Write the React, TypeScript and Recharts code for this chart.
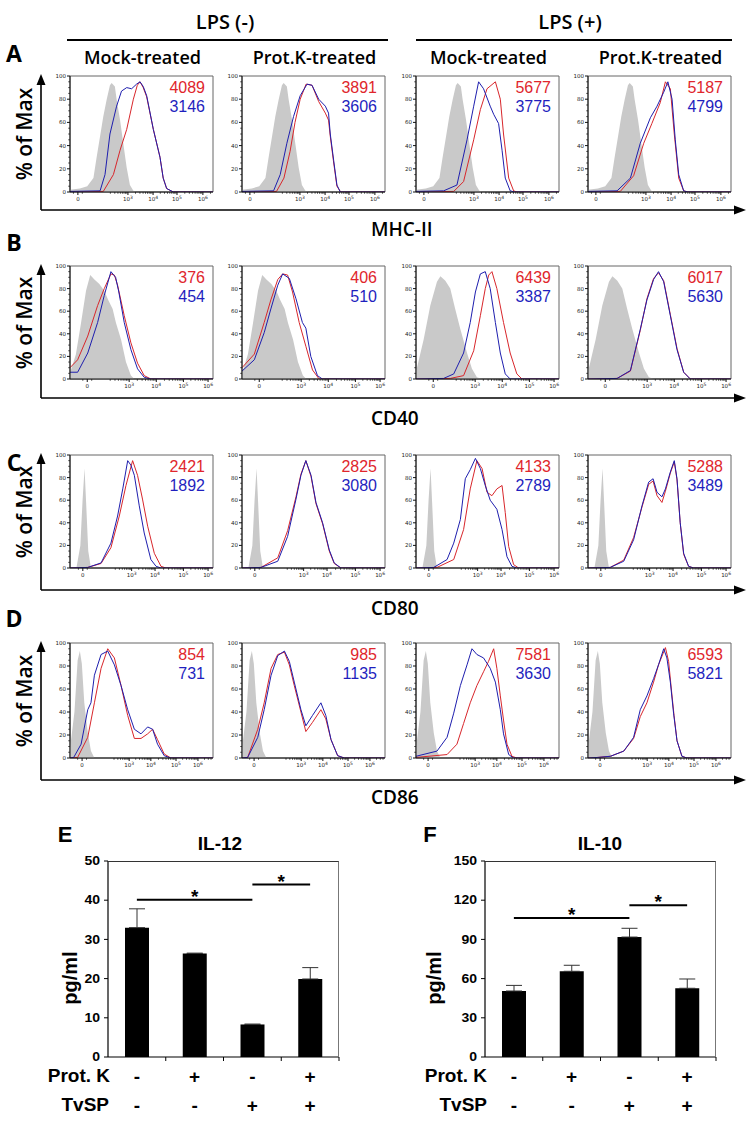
import React from 'react'
import {
  ComposedChart,
  Area,
  Line,
  XAxis,
  YAxis,
  ReferenceArea,
  ReferenceLine,
  BarChart,
  Bar,
  ErrorBar,
} from 'recharts'

const SANS = '"Open Sans", "Noto Sans", sans-serif'
const ARIAL = '"Liberation Sans", Arial, sans-serif'
const RED = '#d8262b'
const BLUE = '#1e1eae'
const GRAY = '#c9c9c9'
const NUM_RED = '#e0262c'
const NUM_BLUE = '#1f1fbe'

// ---- flow panels: header / labels ----
const lpsGroups = ['LPS (-)', 'LPS (+)']
const treatments = ['Mock-treated', 'Prot.K-treated', 'Mock-treated', 'Prot.K-treated']
const markers = ['MHC-II', 'CD40', 'CD80', 'CD86']
const rowLetters = ['A', 'B', 'C', 'D']

const mfiRed = [
  [4089, 3891, 5677, 5187],
  [376, 406, 6439, 6017],
  [2421, 2825, 4133, 5288],
  [854, 985, 7581, 6593],
]
const mfiBlue = [
  [3146, 3606, 3775, 4799],
  [454, 510, 3387, 5630],
  [1892, 3080, 2789, 3489],
  [731, 1135, 3630, 5821],
]

// x axis in display units (biexponential look); major tick positions per row
const xTickExp = ['', '3', '4', '5', '6']
const xTickPos = [
  [0.92, 2.95, 3.97, 4.94, 5.99],
  [1.3, 3.0, 4.1, 5.2, 6.2],
  [1.12, 3.1, 4.05, 5.2, 6.2],
  [1.09, 3.0, 3.88, 4.9, 5.79],
]
const yTickLabels = [0, 20, 40, 60, 80, 100]

// ---- histogram curves [u, % of max] ----
const grayA = [[0.6, 2], [1.0, 3], [1.3, 5], [1.55, 12], [1.68, 30], [1.82, 48], [1.95, 65], [2.09, 80], [2.22, 92], [2.29, 94], [2.42, 91], [2.49, 80], [2.63, 62], [2.76, 42], [2.9, 21], [3.03, 6], [3.17, 1], [3.3, 0]]
const redA1 = [[0.6, 0], [1.95, 0.5], [2.36, 15], [2.63, 36], [2.9, 54], [3.17, 80], [3.33, 92], [3.44, 95], [3.57, 90], [3.71, 82], [3.98, 54], [4.25, 30], [4.38, 12], [4.52, 3], [4.79, 0], [6.4, 0]]
const blueA1 = [[0.6, 0.5], [1.82, 1], [2.02, 15], [2.22, 50], [2.49, 74], [2.69, 87], [2.9, 90], [3.1, 89], [3.3, 93], [3.44, 95], [3.57, 91], [3.71, 83], [3.98, 54], [4.25, 30], [4.38, 12], [4.52, 3], [4.79, 0], [6.4, 0]]
const redA2 = [[0.6, 0], [2.0, 0.5], [2.3, 12], [2.55, 35], [2.75, 60], [2.96, 80], [3.2, 93], [3.44, 92], [3.71, 78], [3.98, 68], [4.11, 62], [4.18, 48], [4.32, 25], [4.45, 5], [4.6, 0], [6.4, 0]]
const blueA2 = [[0.6, 0.5], [1.88, 1], [2.15, 15], [2.42, 42], [2.69, 65], [2.96, 83], [3.24, 93], [3.44, 92], [3.71, 80], [3.98, 74], [4.11, 68], [4.18, 50], [4.32, 27], [4.45, 6], [4.59, 0], [6.4, 0]]
const redA3 = [[0.6, 0], [2.13, 0.5], [2.53, 9], [2.94, 45], [3.21, 71], [3.48, 89], [3.82, 95], [4.02, 80], [4.15, 50], [4.36, 12], [4.56, 1], [4.7, 0], [6.4, 0]]
const blueA3 = [[0.6, 0.5], [1.72, 1], [2.26, 6], [2.67, 45], [2.94, 74], [3.14, 95], [3.34, 89], [3.61, 74], [3.75, 67], [3.95, 59], [4.09, 36], [4.22, 12], [4.42, 1], [4.6, 0], [6.4, 0]]
const redA4 = [[0.6, 0], [1.91, 0.5], [2.45, 14], [2.86, 42], [3.19, 59], [3.53, 77], [3.74, 95], [3.94, 89], [4.1, 50], [4.28, 12], [4.48, 1], [4.65, 0], [6.4, 0]]
const blueA4 = [[0.6, 0.5], [1.78, 1], [2.32, 12], [2.72, 42], [3.13, 64], [3.4, 74], [3.67, 86], [3.84, 95], [4.01, 80], [4.14, 45], [4.28, 15], [4.48, 1], [4.65, 0], [6.4, 0]]

const grayBneg = [[0.6, 6], [0.64, 8], [0.84, 22], [1.05, 50], [1.25, 78], [1.42, 92], [1.59, 88], [1.79, 84], [1.99, 78], [2.15, 70], [2.33, 62], [2.46, 50], [2.67, 35], [2.87, 15], [3.07, 3], [3.21, 0]]
const grayBpos = [[0.6, 8], [0.64, 10], [0.91, 35], [1.18, 65], [1.45, 86], [1.59, 91], [1.79, 87], [1.99, 80], [2.19, 62], [2.4, 44], [2.67, 23], [2.87, 9], [3.07, 1.5], [3.28, 0]]
const redB1 = [[0.6, 10], [0.91, 17], [1.32, 38], [1.72, 65], [1.99, 80], [2.26, 93], [2.4, 92], [2.53, 83], [2.8, 56], [3.07, 32], [3.34, 14], [3.61, 3], [3.88, 0], [6.4, 0]]
const blueB1 = [[0.6, 6], [0.91, 6], [1.32, 23], [1.72, 50], [1.99, 74], [2.26, 95], [2.45, 90], [2.58, 77], [2.8, 50], [3.07, 26], [3.34, 9], [3.61, 1.5], [3.88, 0], [6.4, 0]]
const redB2 = [[0.6, 10], [1.1, 22], [1.5, 50], [1.77, 70], [2.05, 88], [2.25, 93], [2.45, 92], [2.65, 77], [2.92, 50], [3.19, 29], [3.46, 8], [3.73, 0], [6.4, 0]]
const blueB2 = [[0.6, 7], [1.1, 17], [1.5, 41], [1.77, 62], [2.05, 83], [2.25, 93], [2.52, 89], [2.79, 71], [3.05, 50], [3.19, 45], [3.39, 20], [3.66, 3], [3.86, 0], [6.4, 0]]
const redB3 = [[0.6, 0], [1.99, 0.5], [2.53, 3], [2.94, 25], [3.21, 56], [3.41, 80], [3.55, 92], [3.68, 95], [3.88, 80], [4.15, 50], [4.42, 23], [4.69, 4.5], [4.9, 0], [6.4, 0]]
const blueB3 = [[0.6, 0], [1.72, 0.5], [2.13, 4.5], [2.53, 23], [2.8, 50], [3.01, 77], [3.21, 93], [3.41, 95], [3.61, 80], [3.82, 50], [4.02, 23], [4.22, 4.5], [4.42, 0], [6.4, 0]]
const redB4 = [[0.6, 0], [1.78, 0.5], [2.32, 7], [2.72, 43], [2.99, 71], [3.26, 89], [3.46, 94], [3.67, 87], [3.94, 57], [4.21, 27], [4.48, 6], [4.75, 0], [6.4, 0]]
const blueB4 = [[0.6, 0], [1.78, 0.5], [2.32, 7.5], [2.72, 44], [2.99, 70], [3.26, 88], [3.46, 95], [3.67, 86], [3.94, 56], [4.21, 26], [4.48, 6], [4.75, 0], [6.4, 0]]

const grayC = [[0.6, 0], [0.86, 0], [1.02, 20], [1.11, 60], [1.19, 88], [1.26, 55], [1.34, 15], [1.45, 0], [6.4, 0]]
const redC1 = [[0.6, 0], [1.32, 0.5], [1.86, 4], [2.26, 18], [2.6, 46], [2.87, 73], [3.14, 95], [3.34, 82], [3.54, 61], [3.75, 37], [4.02, 13], [4.29, 1.5], [4.49, 0], [6.4, 0]]
const blueC1 = [[0.6, 0], [1.32, 0.5], [1.86, 4.5], [2.26, 22], [2.53, 46], [2.74, 70], [2.94, 95], [3.07, 91], [3.21, 82], [3.41, 55], [3.61, 31], [3.88, 7.5], [4.09, 1.5], [4.29, 0], [6.4, 0]]
const redC2 = [[0.6, 0], [1.37, 0.5], [2.05, 9], [2.45, 33], [2.79, 63], [2.99, 83], [3.19, 95], [3.4, 81], [3.6, 57], [3.87, 39], [4.14, 15], [4.34, 4], [4.61, 0], [6.4, 0]]
const blueC2 = [[0.6, 0], [1.37, 0.5], [2.05, 6], [2.45, 28], [2.79, 61], [2.99, 82], [3.19, 95], [3.4, 82], [3.6, 58], [3.87, 40], [4.14, 16], [4.34, 4.5], [4.61, 0], [6.4, 0]]
const redC3 = [[0.6, 0], [1.45, 0.5], [2.13, 7.5], [2.53, 34], [2.8, 70], [3.07, 95], [3.28, 88], [3.48, 67], [3.68, 64], [3.88, 70], [4.09, 73], [4.22, 49], [4.36, 19], [4.56, 3], [4.76, 0], [6.4, 0]]
const blueC3 = [[0.6, 0], [1.32, 0.5], [1.86, 7.5], [2.13, 22], [2.4, 43], [2.6, 79], [2.8, 87], [3.01, 97], [3.21, 88], [3.41, 73], [3.61, 60], [3.88, 52], [4.09, 34], [4.29, 10], [4.49, 1.5], [4.69, 0], [6.4, 0]]
const redC4 = [[0.6, 0], [1.5, 0.5], [2.05, 7], [2.45, 27], [2.79, 54], [3.06, 74], [3.24, 77], [3.4, 64], [3.6, 58], [3.74, 68], [3.94, 84], [4.1, 94], [4.21, 78], [4.34, 40], [4.48, 12], [4.68, 1.5], [4.88, 0], [6.4, 0]]
const blueC4 = [[0.6, 0], [1.5, 0.5], [2.05, 6], [2.45, 25], [2.79, 55], [3.06, 76], [3.24, 79], [3.4, 67], [3.6, 63], [3.74, 70], [3.94, 85], [4.1, 95], [4.21, 79], [4.34, 40], [4.48, 13], [4.68, 1.5], [4.88, 0], [6.4, 0]]

const grayD = [[0.6, 8], [0.78, 40], [0.91, 85], [1.0, 93], [1.08, 82], [1.18, 48], [1.32, 22], [1.45, 6], [1.59, 0], [6.4, 0]]
const redD1 = [[0.6, 0], [0.91, 0.5], [1.32, 18], [1.59, 48], [1.86, 78], [2.13, 95], [2.4, 87], [2.67, 63], [2.94, 37], [3.21, 17], [3.48, 17], [3.75, 21], [3.95, 25], [4.15, 16], [4.42, 3.5], [4.69, 0], [6.4, 0]]
const blueD1 = [[0.6, 0], [0.75, 0.5], [1.05, 12], [1.32, 42], [1.45, 48], [1.59, 72], [1.86, 90], [2.13, 93], [2.4, 81], [2.67, 63], [2.94, 42], [3.21, 25], [3.48, 21], [3.75, 27], [3.95, 25], [4.15, 12], [4.42, 2], [4.69, 0], [6.4, 0]]
const redD2 = [[0.6, 0], [0.83, 0.5], [1.24, 25], [1.5, 48], [1.78, 78], [2.05, 90], [2.32, 92], [2.52, 81], [2.72, 63], [2.99, 40], [3.19, 23], [3.46, 31], [3.8, 42], [4.0, 34], [4.21, 16], [4.48, 2], [4.75, 0], [6.4, 0]]
const blueD2 = [[0.6, 0], [0.83, 0.5], [1.24, 18], [1.5, 42], [1.78, 72], [2.05, 89], [2.32, 93], [2.52, 84], [2.72, 66], [2.99, 42], [3.19, 28], [3.46, 37], [3.8, 48], [4.0, 37], [4.21, 16], [4.48, 2], [4.75, 0], [6.4, 0]]
const redD3 = [[0.6, 0.5], [1.86, 3], [2.26, 12], [2.53, 30], [2.8, 48], [3.07, 63], [3.34, 75], [3.54, 84], [3.75, 95], [3.88, 78], [4.02, 54], [4.15, 33], [4.29, 12], [4.49, 1.5], [4.69, 0], [6.4, 0]]
const blueD3 = [[0.6, 1.5], [1.45, 6], [1.86, 18], [2.13, 39], [2.4, 63], [2.67, 81], [2.87, 95], [3.07, 90], [3.34, 87], [3.61, 78], [3.82, 66], [4.02, 42], [4.15, 21], [4.36, 3], [4.56, 0], [6.4, 0]]
const redD4 = [[0.6, 0], [1.0, 0.5], [1.51, 1.5], [2.05, 6], [2.45, 17], [2.72, 36], [2.99, 48], [3.26, 66], [3.46, 81], [3.74, 96], [3.87, 84], [3.98, 60], [4.09, 37], [4.21, 15], [4.41, 1.5], [4.61, 0], [6.4, 0]]
const blueD4 = [[0.6, 0], [1.0, 0.5], [1.51, 1.5], [2.05, 6], [2.45, 18], [2.72, 42], [2.99, 54], [3.26, 69], [3.46, 81], [3.67, 95], [3.8, 87], [3.94, 66], [4.07, 39], [4.21, 15], [4.41, 1.5], [4.61, 0], [6.4, 0]]

const grays = [
  [grayA, grayA, grayA, grayA],
  [grayBneg, grayBneg, grayBpos, grayBpos],
  [grayC, grayC, grayC, grayC],
  [grayD, grayD, grayD, grayD],
]
const reds = [
  [redA1, redA2, redA3, redA4],
  [redB1, redB2, redB3, redB4],
  [redC1, redC2, redC3, redC4],
  [redD1, redD2, redD3, redD4],
]
const blues = [
  [blueA1, blueA2, blueA3, blueA4],
  [blueB1, blueB2, blueB3, blueB4],
  [blueC1, blueC2, blueC3, blueC4],
  [blueD1, blueD2, blueD3, blueD4],
]

// ---- cytokine bars ----
const cytoGroups = ['g1', 'g2', 'g3', 'g4']
const protK = ['-', '+', '-', '+']
const tvsp = ['-', '-', '+', '+']
const il12 = [33.0, 26.4, 8.3, 19.9]
const il12Err = [4.8, 0.1, 0.1, 2.9]
const il12Ticks = [0, 10, 20, 30, 40, 50]
const il12Sig = [[0, 2, 40.1], [2, 3, 44.0]]
const il10 = [50.5, 65.6, 91.8, 52.6]
const il10Err = [4.3, 4.6, 6.7, 7.1]
const il10Ticks = [0, 30, 60, 90, 120, 150]
const il10Sig = [[0, 2, 106.4], [2, 3, 116.1]]

// ---- layout ----
const rowTop = [76, 266, 455, 643]
const rowBottom = [192, 379, 568, 758]
const rowAxis = [210, 398, 590, 780]
const rowLetterY = [53, 242, 462, 618]
const rowMarkerY = [229, 418, 608, 797]
const panelLeft = [70, 242, 416, 588]
const PANEL_W = 143
const YW = 18
const XH = 14
const U_MIN = 0.6
const U_MAX = 6.4

const toPts = (a: number[][]) => a.map(([x, y]) => ({ x, y }))

function minorTicks(major: number[]) {
  const out: number[] = []
  const d = major[2] - major[1]
  for (let k = 2; k < 10; k++) {
    const p = major[1] - (1 - Math.log10(k)) * d
    if (p > major[0] + 0.25) out.push(p)
  }
  for (let i = 1; i < major.length - 1; i++) {
    for (let k = 2; k < 10; k++) out.push(major[i] + Math.log10(k) * (major[i + 1] - major[i]))
  }
  for (let k = 2; k < 10; k++) {
    const p = major[4] + Math.log10(k) * d
    if (p < U_MAX - 0.02) out.push(p)
  }
  out.push(major[0] - 0.18, major[0] + 0.18)
  return out
}

const yTicksAll: number[] = []
for (let v = 0; v <= 100; v += 5) yTicksAll.push(v)

function T({ x, y, children, size, anchor = 'middle', weight = 400, color = '#000', font = SANS, rotate = false }: any) {
  const tx = anchor === 'start' ? '0%' : anchor === 'end' ? '-100%' : '-50%'
  return (
    <div
      style={{
        position: 'absolute',
        left: x,
        top: y,
        transform: `translate(${tx},-50%)${rotate ? ' rotate(-90deg)' : ''}`,
        transformOrigin: 'center center',
        fontSize: size,
        fontWeight: weight,
        color,
        fontFamily: font,
        whiteSpace: 'nowrap',
        lineHeight: 1,
      }}
    >
      {children}
    </div>
  )
}

function XTick({ x, y, payload, majors }: any) {
  const i = majors.indexOf(payload.value)
  const major = i >= 0
  return (
    <g>
      <line x1={x} y1={y} x2={x} y2={y + (major ? 3 : 1.8)} stroke="#111" strokeWidth={major ? 1 : 0.7} />
      {major &&
        (xTickExp[i] === '' ? (
          <text x={x} y={y + 9} textAnchor="middle" fontSize={5.5} fontFamily="DejaVu Sans" fill="#222">0</text>
        ) : (
          <text x={x} y={y + 9} textAnchor="middle" fontSize={5.5} fontFamily="DejaVu Sans" fill="#222">
            10<tspan dy={-2.5} fontSize={4.5}>{xTickExp[i]}</tspan>
          </text>
        ))}
    </g>
  )
}

function YTick({ x, y, payload }: any) {
  const major = yTickLabels.includes(payload.value)
  return (
    <g>
      <line x1={x} y1={y} x2={x - (major ? 3 : 1.8)} y2={y} stroke="#111" strokeWidth={major ? 1 : 0.7} />
      {major && (
        <text x={x - 4} y={y + 2} textAnchor="end" fontSize={5.5} fontFamily="DejaVu Sans" fill="#222">
          {payload.value}
        </text>
      )}
    </g>
  )
}

function Histo({ row, col }: { row: number; col: number }) {
  const top = rowTop[row]
  const h = rowBottom[row] - rowTop[row]
  const majors = xTickPos[row]
  const ticks = [...majors, ...minorTicks(majors)].sort((a, b) => a - b)
  return (
    <div style={{ position: 'absolute', left: panelLeft[col] - YW, top: top - 4 }}>
      <ComposedChart width={YW + PANEL_W + 4} height={h + 4 + XH} margin={{ top: 4, right: 4, bottom: 0, left: 0 }}>
        <ReferenceArea x1={U_MIN} x2={U_MAX} y1={0} y2={100} fill="none" stroke="#666" strokeWidth={1} ifOverflow="visible" />
        <XAxis
          type="number"
          dataKey="x"
          domain={[U_MIN, U_MAX]}
          allowDataOverflow
          ticks={ticks}
          interval={0}
          height={XH}
          tickSize={0}
          tickMargin={0}
          tickLine={false}
          axisLine={{ stroke: '#111' }}
          tick={(p: any) => <XTick {...p} majors={majors} />}
        />
        <YAxis
          type="number"
          domain={[0, 100]}
          allowDataOverflow
          ticks={yTicksAll}
          interval={0}
          width={YW}
          tickSize={0}
          tickMargin={0}
          tickLine={false}
          axisLine={{ stroke: '#111' }}
          tick={(p: any) => <YTick {...p} />}
        />
        <Area data={toPts(grays[row][col])} dataKey="y" type="linear" stroke="none" fill={GRAY} fillOpacity={1} isAnimationActive={false} />
        <Line data={toPts(reds[row][col])} dataKey="y" type="linear" stroke={RED} strokeWidth={1} dot={false} isAnimationActive={false} />
        <Line data={toPts(blues[row][col])} dataKey="y" type="linear" stroke={BLUE} strokeWidth={1} dot={false} isAnimationActive={false} />
      </ComposedChart>
    </div>
  )
}

const BAR_PLOT_W = 231
const BAR_YW = 48

function BarYTick({ x, y, payload }: any) {
  return (
    <text transform={`translate(${x},${y}) scale(1.12,1)`} textAnchor="end" dominantBaseline="central" fontFamily={ARIAL} fontWeight={700} fontSize={12.5} fill="#000">
      {payload.value}
    </text>
  )
}

function SignTick({ x, y, payload }: any) {
  const i = cytoGroups.indexOf(payload.value)
  const bw = BAR_PLOT_W / 4
  const txt = (s: string, dy: number) => (
    <text x={x} y={y + dy} textAnchor="middle" dominantBaseline="central" fontFamily={ARIAL} fontWeight={700} fontSize={19} fill="#000">
      {s}
    </text>
  )
  return (
    <g>
      <line x1={x + bw / 2} y1={y} x2={x + bw / 2} y2={y + 4} stroke="#000" strokeWidth={1} />
      {txt(protK[i], 19)}
      {txt(tvsp[i], 48)}
    </g>
  )
}

function CytoChart({ left, values, errs, ticks, sig }: any) {
  const data = cytoGroups.map((g, i) => ({ g, v: values[i], e: [0, errs[i]] }))
  const yMax = ticks[ticks.length - 1]
  return (
    <>
      <div style={{ position: 'absolute', left: left - BAR_YW, top: 840 }}>
        <BarChart width={BAR_YW + BAR_PLOT_W + 10} height={21 + 196 + 60} data={data} margin={{ top: 21, right: 10, bottom: 0, left: 0 }}>
          <XAxis dataKey="g" height={60} interval={0} tickSize={0} tickMargin={0} tickLine={false} axisLine={{ stroke: '#000', strokeWidth: 1.2 }} tick={(p: any) => <SignTick {...p} />} />
          <YAxis
            type="number"
            domain={[0, yMax]}
            ticks={ticks}
            interval={0}
            width={BAR_YW}
            tickSize={4}
            tickMargin={4}
            axisLine={{ stroke: '#000', strokeWidth: 1.2 }}
            tickLine={{ stroke: '#000' }}
            tick={(p: any) => <BarYTick {...p} />}
          />
          <Bar dataKey="v" fill="#000" barSize={24} isAnimationActive={false}>
            <ErrorBar dataKey="e" width={8} stroke="#333" strokeWidth={1} direction="y" />
          </Bar>
          {sig.map(([a, b, y]: number[], k: number) => (
            <ReferenceLine
              key={k}
              segment={[{ x: cytoGroups[a], y }, { x: cytoGroups[b], y }]}
              stroke="#000"
              strokeWidth={2}
              label={{ value: '*', position: 'top', offset: -3, fill: '#000', fontSize: 19, fontWeight: 700, fontFamily: ARIAL }}
            />
          ))}
        </BarChart>
      </div>
      <div style={{ position: 'absolute', left, top: 861, width: BAR_PLOT_W, height: 196, borderTop: '1px solid #333', borderRight: '1px solid #777', boxSizing: 'border-box', pointerEvents: 'none' }} />
    </>
  )
}

export default function App() {
  return (
    <div style={{ position: 'absolute', left: 0, top: 0, width: 754, height: 1126, background: '#fff', overflow: 'hidden' }}>
      <svg width={754} height={1126} style={{ position: 'absolute', left: 0, top: 0 }}>
        <line x1={67} y1={40} x2={388} y2={40} stroke="#000" strokeWidth={2} />
        <line x1={416} y1={40} x2={732} y2={40} stroke="#000" strokeWidth={2} />
        {rowTop.map((t, r) => (
          <g key={r}>
            <line x1={41} y1={t + 6} x2={41} y2={rowAxis[r]} stroke="#000" strokeWidth={1.6} />
            <polygon points={`41,${t - 2} 36.5,${t + 9} 45.5,${t + 9}`} fill="#000" />
            <line x1={41} y1={rowAxis[r]} x2={738} y2={rowAxis[r]} stroke="#000" strokeWidth={1.6} />
            <polygon points={`746,${rowAxis[r]} 734,${rowAxis[r] - 4.5} 734,${rowAxis[r] + 4.5}`} fill="#000" />
          </g>
        ))}
      </svg>

      <T x={225} y={22} size={20} weight={600}>{lpsGroups[0]}</T>
      <T x={570} y={22} size={20} weight={600}>{lpsGroups[1]}</T>
      {treatments.map((t, c) => (
        <T key={c} x={panelLeft[c] + PANEL_W / 2 + 1} y={57} size={18} weight={600}>{t}</T>
      ))}

      {rowTop.map((t, r) => (
        <React.Fragment key={r}>
          <T x={14} y={rowLetterY[r]} size={23} weight={700}>{rowLetters[r]}</T>
          <T x={24} y={(t + rowBottom[r]) / 2} size={21} weight={600} rotate>% of Max</T>
          <T x={371} y={rowMarkerY[r]} size={19} weight={600} anchor="start">{markers[r]}</T>
          {panelLeft.map((_, c) => (
            <React.Fragment key={c}>
              <Histo row={r} col={c} />
              <T x={panelLeft[c] + PANEL_W - 8} y={t + 12} size={16} anchor="end" color={NUM_RED} font={ARIAL}>{mfiRed[r][c]}</T>
              <T x={panelLeft[c] + PANEL_W - 8} y={t + 30.5} size={16} anchor="end" color={NUM_BLUE} font={ARIAL}>{mfiBlue[r][c]}</T>
            </React.Fragment>
          ))}
        </React.Fragment>
      ))}

      <T x={65} y={835} size={22} weight={700} font={ARIAL}>E</T>
      <T x={220} y={843} size={19} weight={700} font={ARIAL}>IL-12</T>
      <T x={70} y={978} size={20} weight={700} font={ARIAL} rotate>pg/ml</T>
      <T x={110} y={1075} size={19} weight={700} font={ARIAL} anchor="end">Prot. K</T>
      <T x={109} y={1104} size={19} weight={700} font={ARIAL} anchor="end">TvSP</T>
      <CytoChart left={108} values={il12} errs={il12Err} ticks={il12Ticks} sig={il12Sig} />

      <T x={430} y={835} size={22} weight={700} font={ARIAL}>F</T>
      <T x={600} y={843} size={19} weight={700} font={ARIAL}>IL-10</T>
      <T x={434} y={978} size={20} weight={700} font={ARIAL} rotate>pg/ml</T>
      <T x={487} y={1075} size={19} weight={700} font={ARIAL} anchor="end">Prot. K</T>
      <T x={487} y={1104} size={19} weight={700} font={ARIAL} anchor="end">TvSP</T>
      <CytoChart left={485} values={il10} errs={il10Err} ticks={il10Ticks} sig={il10Sig} />
    </div>
  )
}
